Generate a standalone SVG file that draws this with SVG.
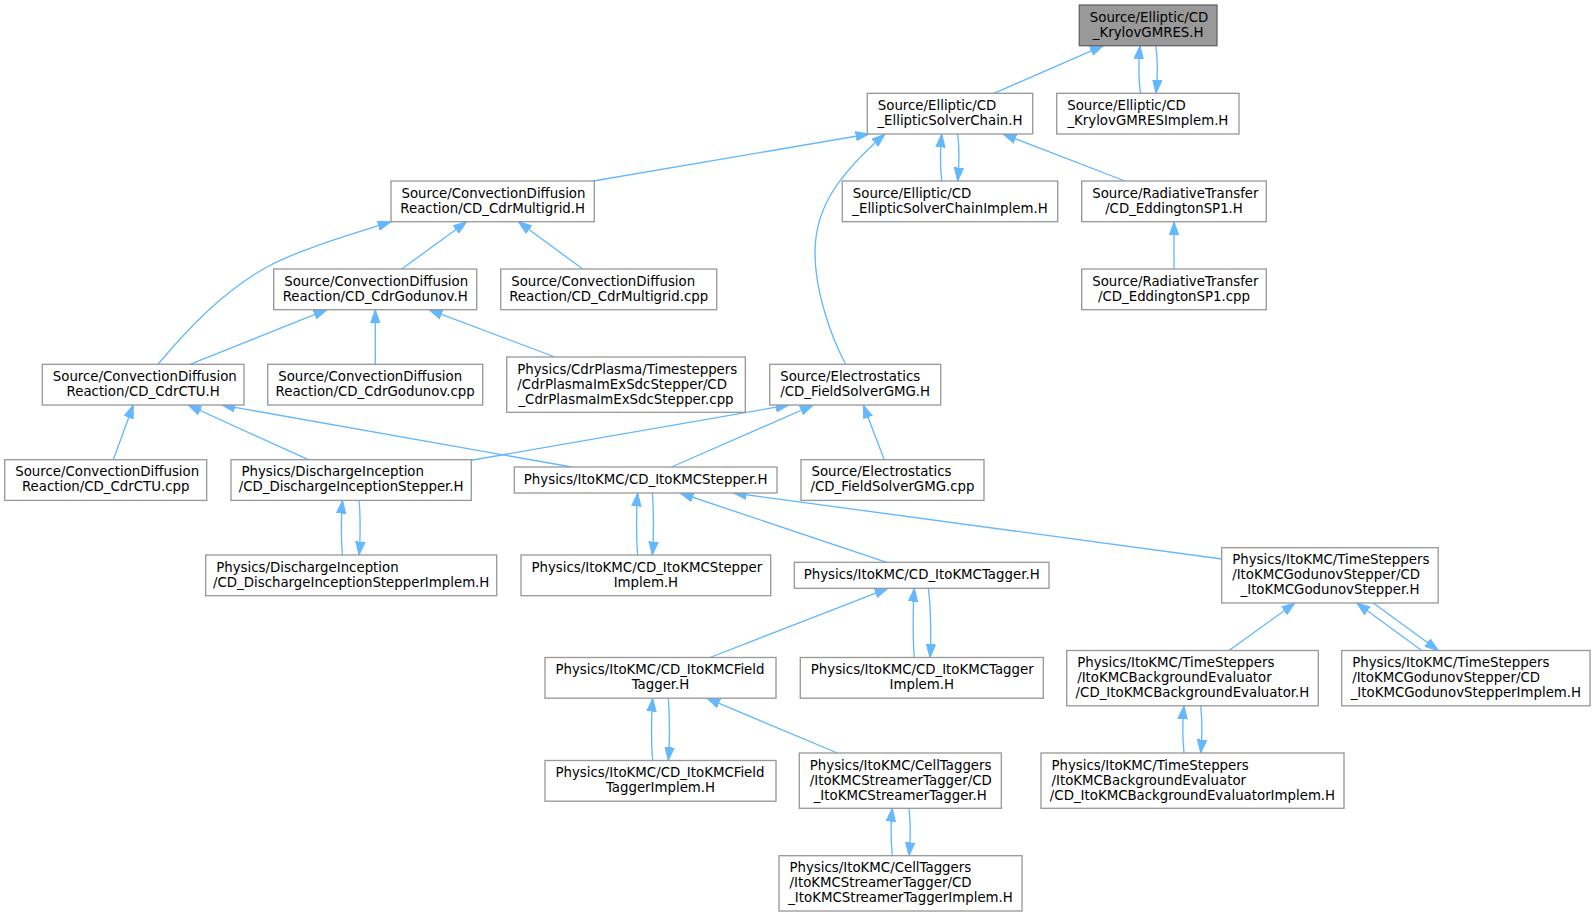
<svg xmlns="http://www.w3.org/2000/svg" width="1595" height="916" viewBox="0 0 1595 916">
<style>
.node rect{fill:#ffffff;stroke:#999999;stroke-width:1.33}
.root rect{fill:#999999;stroke:#666666;stroke-width:1.33}
text{font-family:"DejaVu Sans","Liberation Sans",sans-serif;font-size:13.33px;fill:#000000}
.m{text-anchor:middle}
.edges path{fill:none;stroke:#63b8ff;stroke-width:1.33;marker-end:url(#arr)}
</style>
<defs>
<marker id="arr" markerUnits="userSpaceOnUse" markerWidth="16" markerHeight="12" viewBox="0 -6 16 12" refX="13.33" refY="0" orient="auto">
<path d="M0,-4.67L13.33,0L0,4.67z" fill="#63b8ff" stroke="#63b8ff" stroke-width="1"/>
</marker>
</defs>
<rect width="1595" height="916" fill="#ffffff"/>
<g class="edges" id="edges">
<path d="M994,93.3L1103.3,45.7"/>
<path d="M1140.5,93.3C1138.5,80 1138.5,62 1140,45.7"/>
<path d="M1155.7,45.7C1157.7,58 1157.7,76 1156,93.3"/>
<path d="M593.3,181L869,134"/>
<path d="M845.7,364.3C830,335 815,290 815,253C815,213 832,180 885,134"/>
<path d="M941.7,181C940.2,168 940.2,150 941.7,134"/>
<path d="M957.7,134C959.2,146 959.2,165 957.7,181"/>
<path d="M1125,181L1003,134"/>
<path d="M1174,269L1174,221.7"/>
<path d="M401.7,269L466.7,221.7"/>
<path d="M582.7,269L518.3,221.7"/>
<path d="M158,364.3C190,326 225,290 267,267C300,249 350,235 391,221.7"/>
<path d="M190,364.3L327,309.7"/>
<path d="M375.3,364.3L375.3,309.7"/>
<path d="M555,357L429,309.7"/>
<path d="M113.3,459.7L133.3,405"/>
<path d="M308.3,459.7L188,405"/>
<path d="M571.7,467L221.7,405"/>
<path d="M470,460.5L789,405"/>
<path d="M671.7,467L813.3,405"/>
<path d="M884.3,459.7L863.3,405"/>
<path d="M342.5,555C341,542 341,515 342.5,500.3"/>
<path d="M359,500.3C360.5,515 360.5,540 359,555"/>
<path d="M637.7,555C636.2,540 636.2,508 637.7,493"/>
<path d="M652.3,493C653.8,508 653.8,540 652.3,555"/>
<path d="M886.7,562.3L680,493"/>
<path d="M1221.7,559L733.3,493"/>
<path d="M710,657.5L888,588.3"/>
<path d="M914.3,657.5C912.8,640 912.8,605 914.3,588.3"/>
<path d="M928.3,588.3C930.8,605 931.3,640 930,657.5"/>
<path d="M1229,650.5L1295,603"/>
<path d="M1421.7,650.5L1356.7,603"/>
<path d="M1373.3,603L1438.3,650.5"/>
<path d="M652.7,760.5C651.2,745 651.2,715 652.7,698.2"/>
<path d="M668.3,698.2C669.8,715 669.8,745 668.3,760.5"/>
<path d="M837.3,753L706.7,698.2"/>
<path d="M1184,753C1182.5,738 1182.5,720 1184,705.8"/>
<path d="M1200.7,705.8C1202.2,720 1202.2,738 1200.7,753"/>
<path d="M892.3,855.7C890.8,840 890.8,822 892.3,808.3"/>
<path d="M909,808.3C910.5,822 910.5,840 909,855.7"/>
</g>
<g id="n0" class="root"><rect x="1079.3" y="5" width="137.7" height="40.7"/><text x="1089.8" y="21.7">Source/Elliptic/CD</text><text class="m" x="1148.2" y="36.7">_KrylovGMRES.H</text></g>
<g id="n1" class="node"><rect x="867.3" y="93.3" width="165.4" height="40.7"/><text x="877.8" y="110">Source/Elliptic/CD</text><text class="m" x="950" y="125">_EllipticSolverChain.H</text></g>
<g id="n2" class="node"><rect x="1056.7" y="93.3" width="182.3" height="40.7"/><text x="1067.2" y="110">Source/Elliptic/CD</text><text class="m" x="1147.9" y="125">_KrylovGMRESImplem.H</text></g>
<g id="n3" class="node"><rect x="391" y="181" width="203.3" height="40.7"/><text x="401.5" y="197.7">Source/ConvectionDiffusion</text><text class="m" x="492.7" y="212.7">Reaction/CD_CdrMultigrid.H</text></g>
<g id="n4" class="node"><rect x="842.3" y="181" width="215.4" height="40.7"/><text x="852.8" y="197.7">Source/Elliptic/CD</text><text class="m" x="950" y="212.7">_EllipticSolverChainImplem.H</text></g>
<g id="n5" class="node"><rect x="1081.7" y="181" width="184.6" height="40.7"/><text x="1092.2" y="197.7">Source/RadiativeTransfer</text><text class="m" x="1174" y="212.7">/CD_EddingtonSP1.H</text></g>
<g id="n6" class="node"><rect x="273.7" y="269" width="203" height="40.7"/><text x="284.2" y="285.7">Source/ConvectionDiffusion</text><text class="m" x="375.2" y="300.7">Reaction/CD_CdrGodunov.H</text></g>
<g id="n7" class="node"><rect x="500.7" y="269" width="216" height="40.7"/><text x="511.2" y="285.7">Source/ConvectionDiffusion</text><text class="m" x="608.7" y="300.7">Reaction/CD_CdrMultigrid.cpp</text></g>
<g id="n8" class="node"><rect x="1081.7" y="269" width="184.6" height="40.7"/><text x="1092.2" y="285.7">Source/RadiativeTransfer</text><text class="m" x="1174" y="300.7">/CD_EddingtonSP1.cpp</text></g>
<g id="n9" class="node"><rect x="42.3" y="364.3" width="201.7" height="40.7"/><text x="52.8" y="381">Source/ConvectionDiffusion</text><text class="m" x="143.2" y="396">Reaction/CD_CdrCTU.H</text></g>
<g id="n10" class="node"><rect x="267.7" y="364.3" width="215" height="40.7"/><text x="278.2" y="381">Source/ConvectionDiffusion</text><text class="m" x="375.2" y="396">Reaction/CD_CdrGodunov.cpp</text></g>
<g id="n11" class="node"><rect x="506.7" y="357" width="238.6" height="55.3"/><text x="517.2" y="373.7">Physics/CdrPlasma/Timesteppers</text><text x="517.2" y="388.7">/CdrPlasmaImExSdcStepper/CD</text><text class="m" x="626" y="403.7">_CdrPlasmaImExSdcStepper.cpp</text></g>
<g id="n12" class="node"><rect x="769.7" y="364.3" width="171" height="40.7"/><text x="780.2" y="381">Source/Electrostatics</text><text class="m" x="855.2" y="396">/CD_FieldSolverGMG.H</text></g>
<g id="n13" class="node"><rect x="4.7" y="459.7" width="202" height="40.7"/><text x="15.2" y="476.4">Source/ConvectionDiffusion</text><text class="m" x="105.7" y="491.4">Reaction/CD_CdrCTU.cpp</text></g>
<g id="n14" class="node"><rect x="231" y="459.7" width="240.3" height="40.7"/><text x="241.5" y="476.4">Physics/DischargeInception</text><text class="m" x="351.2" y="491.4">/CD_DischargeInceptionStepper.H</text></g>
<g id="n15" class="node"><rect x="514.3" y="467" width="262.7" height="26"/><text class="m" x="645.7" y="483.5">Physics/ItoKMC/CD_ItoKMCStepper.H</text></g>
<g id="n16" class="node"><rect x="801" y="459.7" width="183" height="40.7"/><text x="811.5" y="476.4">Source/Electrostatics</text><text class="m" x="892.5" y="491.4">/CD_FieldSolverGMG.cpp</text></g>
<g id="n17" class="node"><rect x="205.7" y="555" width="291" height="40.7"/><text x="216.2" y="571.7">Physics/DischargeInception</text><text class="m" x="351.2" y="586.7">/CD_DischargeInceptionStepperImplem.H</text></g>
<g id="n18" class="node"><rect x="521" y="555" width="249.7" height="40.7"/><text x="531.5" y="571.7">Physics/ItoKMC/CD_ItoKMCStepper</text><text class="m" x="645.9" y="586.7">Implem.H</text></g>
<g id="n19" class="node"><rect x="794.3" y="562.3" width="254.7" height="26"/><text class="m" x="921.7" y="578.8">Physics/ItoKMC/CD_ItoKMCTagger.H</text></g>
<g id="n20" class="node"><rect x="1221.7" y="547.7" width="216.5" height="55.3"/><text x="1232.2" y="564.4">Physics/ItoKMC/TimeSteppers</text><text x="1232.2" y="579.4">/ItoKMCGodunovStepper/CD</text><text class="m" x="1330" y="594.4">_ItoKMCGodunovStepper.H</text></g>
<g id="n21" class="node"><rect x="545" y="657.5" width="231" height="40.7"/><text x="555.5" y="674.2">Physics/ItoKMC/CD_ItoKMCField</text><text class="m" x="660.5" y="689.2">Tagger.H</text></g>
<g id="n22" class="node"><rect x="800.3" y="657.5" width="243" height="40.7"/><text x="810.8" y="674.2">Physics/ItoKMC/CD_ItoKMCTagger</text><text class="m" x="921.8" y="689.2">Implem.H</text></g>
<g id="n23" class="node"><rect x="1066.7" y="650.5" width="251.6" height="55.3"/><text x="1077.2" y="667.2">Physics/ItoKMC/TimeSteppers</text><text x="1077.2" y="682.2">/ItoKMCBackgroundEvaluator</text><text class="m" x="1192.5" y="697.2">/CD_ItoKMCBackgroundEvaluator.H</text></g>
<g id="n24" class="node"><rect x="1341.7" y="650.5" width="248.3" height="55.3"/><text x="1352.2" y="667.2">Physics/ItoKMC/TimeSteppers</text><text x="1352.2" y="682.2">/ItoKMCGodunovStepper/CD</text><text class="m" x="1465.9" y="697.2">_ItoKMCGodunovStepperImplem.H</text></g>
<g id="n25" class="node"><rect x="545" y="760.5" width="231" height="40.7"/><text x="555.5" y="777.2">Physics/ItoKMC/CD_ItoKMCField</text><text class="m" x="660.5" y="792.2">TaggerImplem.H</text></g>
<g id="n26" class="node"><rect x="799.3" y="753" width="202" height="55.3"/><text x="809.8" y="769.7">Physics/ItoKMC/CellTaggers</text><text x="809.8" y="784.7">/ItoKMCStreamerTagger/CD</text><text class="m" x="900.3" y="799.7">_ItoKMCStreamerTagger.H</text></g>
<g id="n27" class="node"><rect x="1041" y="753" width="303" height="55.3"/><text x="1051.5" y="769.7">Physics/ItoKMC/TimeSteppers</text><text x="1051.5" y="784.7">/ItoKMCBackgroundEvaluator</text><text class="m" x="1192.5" y="799.7">/CD_ItoKMCBackgroundEvaluatorImplem.H</text></g>
<g id="n28" class="node"><rect x="779" y="855.7" width="243" height="55.3"/><text x="789.5" y="872.4">Physics/ItoKMC/CellTaggers</text><text x="789.5" y="887.4">/ItoKMCStreamerTagger/CD</text><text class="m" x="900.5" y="902.4">_ItoKMCStreamerTaggerImplem.H</text></g>
</svg>
